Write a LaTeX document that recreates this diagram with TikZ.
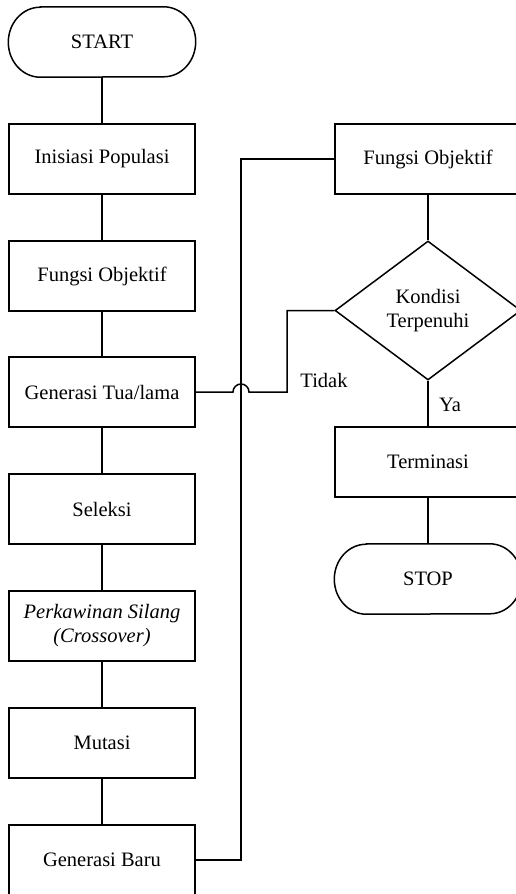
\documentclass[tikz,border=0pt]{standalone}
\usepackage{fontspec}
\setmainfont{Liberation Serif}
\usetikzlibrary{shapes.geometric}
\newcommand{\termoutline}[1]{%
  \draw[conn] ([xshift=32pt]#1.north west) -- ([xshift=-32pt]#1.north east)
    arc[start angle=90,end angle=-90,x radius=32pt,y radius=35pt]
    -- ([xshift=32pt]#1.south west)
    arc[start angle=270,end angle=90,x radius=32pt,y radius=35pt] -- cycle;}
\begin{document}
\begin{tikzpicture}[x=1pt,y=1pt,
  every node/.style={font=\fontsize{20.5}{24}\selectfont, align=center},
  procbox/.style={draw, line width=1.5pt, rectangle, minimum width=186pt, minimum height=70pt, inner sep=0pt},
  termbox/.style={rectangle, minimum width=187pt, minimum height=70pt, inner sep=0pt},
  decbox/.style={draw, line width=1.5pt, diamond, minimum width=186pt, minimum height=139pt, inner sep=0pt},
  conn/.style={line width=1.5pt}]
\useasboundingbox (0,0) rectangle (515,-894);
% left column
\node[termbox] (start) at (102,-42) {START};
\node[procbox] (init) at (102,-159) {Inisiasi Populasi};
\node[procbox] (fobj1) at (102,-276) {Fungsi Objektif};
\node[procbox] (gentua) at (102,-392) {Generasi Tua/lama};
\node[procbox] (seleksi) at (102,-509) {Seleksi};
\node[procbox] (cross) at (102,-626) {\itshape Perkawinan Silang\\\itshape (Crossover)};
\node[procbox] (mutasi) at (102,-743) {Mutasi};
\node[procbox] (genbaru) at (102,-860) {Generasi Baru};
% right column
\node[procbox] (fobj2) at (428,-159) {Fungsi Objektif};
\node[decbox] (kondisi) at (428,-310.5) {Kondisi\\Terpenuhi};
\node[procbox] (term) at (428,-462) {Terminasi};
\node[termbox] (stop) at (428,-579) {STOP};
\termoutline{start}
\termoutline{stop}
% labels
\node (tidak) at (324,-380) {Tidak};
\node (ya) at (450,-405) {Ya};
% helper coordinates
\coordinate (busx) at (241,0);
\coordinate (tidx) at (287,0);
\coordinate (jumpR) at (249,-392);
% vertical connectors
\draw[conn] (start) -- (init);
\draw[conn] (init) -- (fobj1);
\draw[conn] (fobj1) -- (gentua);
\draw[conn] (gentua) -- (seleksi);
\draw[conn] (seleksi) -- (cross);
\draw[conn] (cross) -- (mutasi);
\draw[conn] (mutasi) -- (genbaru);
\draw[conn] (fobj2) -- (kondisi);
\draw[conn] (kondisi) -- (term);
\draw[conn] (term) -- (stop);
% loop back
\draw[conn] (genbaru.east) -- (genbaru.east -| busx) -- (fobj2.west -| busx) -- (fobj2.west);
% Tidak branch with line jump
\draw[conn] (kondisi.west) -- (kondisi.west -| tidx) -- (gentua.east -| tidx) -- (jumpR) arc (0:180:8) -- (gentua.east);
\end{tikzpicture}
\end{document}
